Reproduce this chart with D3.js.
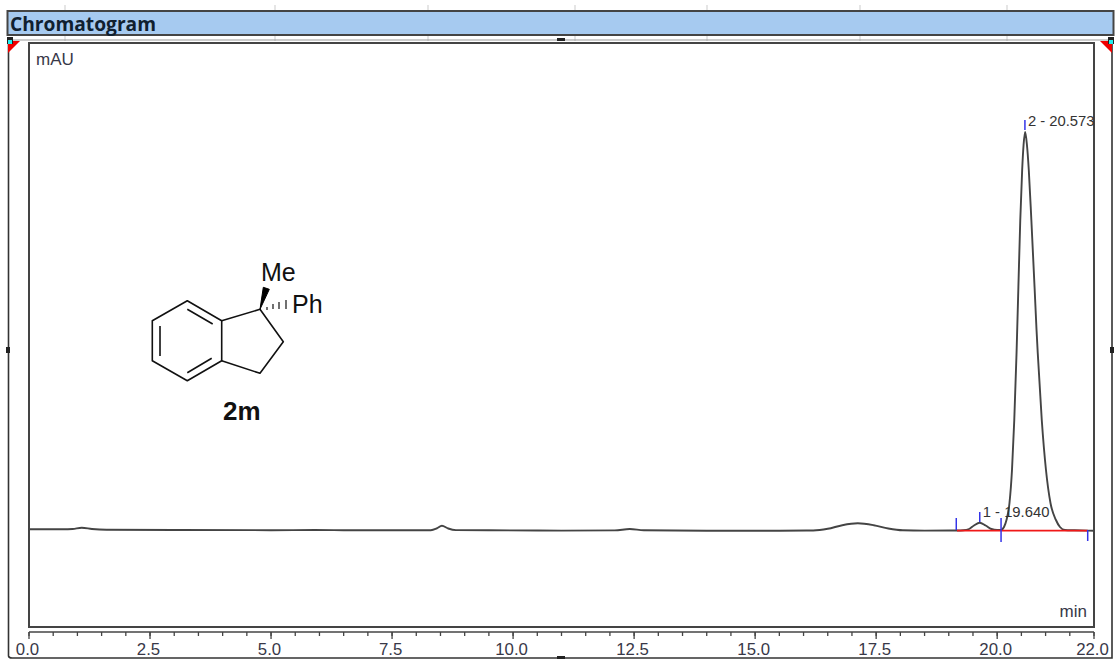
<!DOCTYPE html>
<html><head><meta charset="utf-8">
<script src="https://cdn.jsdelivr.net/npm/d3@7"></script>
<style>html,body{margin:0;padding:0;background:#fff}svg{display:block}text{font-family:"Liberation Sans",Arial,sans-serif}</style>
</head><body><svg id="c" width="1115" height="660"></svg>
<script>
// Chart values
const traceTimes = [0,0.7,0.9,1.09,1.3,1.6,3,5,5.9,6.5,8,8.3,8.42,8.53,8.66,8.82,9.5,11,12.1,12.41,12.7,14,15.5,16.2,16.5,16.8,17.12,17.45,17.75,18.05,18.5,19.17,19.3,19.42,19.52,19.64,19.76,19.88,20,20.079,20.141,20.192,20.254,20.306,20.353,20.4,20.438,20.477,20.516,20.545,20.578,20.615,20.653,20.706,20.772,20.813,20.838,20.921,21.008,21.101,21.214,21.297,21.4,21.6,22];
const traceValues = [0.7,0.7,1,2.3,1,0.2,0,-0.2,0,-0.2,-0.3,-0.2,1.5,4.3,1.5,-0.1,-0.3,-0.6,-0.4,1,-0.3,-0.7,-0.7,-0.5,1.2,4.8,6.7,4.8,1.5,-0.3,-0.6,-0.5,-0.3,1,4.5,7.3,4.5,1,0,0,3,10,27,60,110,177,243,310,360,385,398,385,360,310,243,200,177,110,60,27,10,3,0,-0.3,-0.7];
const majorTicks = [0,2.5,5,7.5,10,12.5,15,17.5,20,22];
const majorLabels = ["0.0","2.5","5.0","7.5","10.0","12.5","15.0","17.5","20.0","22.0"];
const minorTicks = d3.range(0,22.01,0.5);
const peakLabels = ["1 - 19.640","2 - 20.573"];
const peakTimes = [19.64,20.573];
const peakValues = [13,404];
const baselineTimes = [19.17,21.87];
const baselineValues = [-0.6,-0.6];
const markerTimes = [19.155,19.64,20.08,20.573,21.87];
const markerHigh = [12,18,12,410,0];
const markerLow = [0,8,-12,400,-11];
const xDomain = [0,22], yDomain = [-97,487];
const titleText = "Chromatogram";

const svg = d3.select("#c");
const x = d3.scaleLinear().domain(xDomain).range([29,1094]);
const y = d3.scaleLinear().domain(yDomain).range([627,43]);
const ink = "#444";

// faint sheet gridlines behind the frame
[65,275,428,575,707,860,1007].forEach(g=>{
  svg.append("line").attr("x1",g).attr("x2",g).attr("y1",5).attr("y2",41).attr("stroke","#ddd").attr("stroke-width",1.5);
});
// title band
svg.append("rect").attr("x",7.5).attr("y",11).attr("width",1106).attr("height",24)
  .attr("fill","#a6caf0").attr("stroke",ink).attr("stroke-width",2);
svg.append("text").attr("x",10).attr("y",31).attr("font-size",19.2).attr("font-weight",700)
  .style("font-family","'Open Sans'").attr("fill","#10202f").text(titleText);

// outer frame
svg.append("path").attr("d","M8.5,40V656Q9,658 12,658H1112V40").attr("fill","none").attr("stroke","#333").attr("stroke-width",1.6);
svg.append("line").attr("x1",8).attr("x2",1112).attr("y1",40).attr("y2",40).attr("stroke","#999").attr("stroke-width",1);
svg.append("path").attr("d","M8,41H20L8,53Z").attr("fill","#f00000");
svg.append("path").attr("d","M1100,41H1112V53Z").attr("fill","#f00000");
[[7,37],[1108,37]].forEach(p=>{
  svg.append("rect").attr("x",p[0]).attr("y",p[1]).attr("width",6).attr("height",7).attr("fill","#222");
  svg.append("rect").attr("x",p[0]+1).attr("y",p[1]+3).attr("width",4).attr("height",4).attr("fill","#2ee");
});
[[557,38,8,3],[6,347,4,6],[1110,347,4,6],[557,656,8,3]].forEach(p=>{
  svg.append("rect").attr("x",p[0]).attr("y",p[1]).attr("width",p[2]).attr("height",p[3]).attr("fill","#222");
});

// plot box
svg.append("rect").attr("x",29).attr("y",43).attr("width",1065).attr("height",584)
  .attr("fill","#fff").attr("stroke",ink).attr("stroke-width",2);

// axis
const ax = svg.append("g");
ax.append("line").attr("x1",x(0)).attr("x2",x(22)).attr("y1",632).attr("y2",632).attr("stroke",ink).attr("stroke-width",1.5);
ax.selectAll("line.mn").data(minorTicks).join("line").attr("class","mn")
  .attr("x1",d=>x(d)).attr("x2",d=>x(d)).attr("y1",632).attr("y2",636).attr("stroke",ink).attr("stroke-width",1.3);
ax.selectAll("line.mj").data(majorTicks).join("line").attr("class","mj")
  .attr("x1",d=>x(d)).attr("x2",d=>x(d)).attr("y1",632).attr("y2",639).attr("stroke",ink).attr("stroke-width",1.3);
ax.selectAll("text").data(majorTicks).join("text")
  .attr("x",d=>x(d)-1.5).attr("y",655).attr("text-anchor","middle").attr("font-size",16.8).attr("fill","#383848")
  .text((d,i)=>majorLabels[i]);
svg.append("text").attr("x",36).attr("y",65).attr("font-size",17).attr("fill","#383848").text("mAU");
svg.append("text").attr("x",1087).attr("y",617).attr("text-anchor","end").attr("font-size",17).attr("fill","#383848").text("min");

// trace
const line = d3.line().x(d=>x(d[0])).y(d=>y(d[1])).curve(d3.curveMonotoneX);
svg.append("path").attr("d",line(d3.zip(traceTimes,traceValues))).attr("fill","none").attr("stroke","#444").attr("stroke-width",1.9);

// integration baseline
svg.append("line").attr("x1",x(baselineTimes[0])).attr("x2",x(baselineTimes[1]))
  .attr("y1",y(baselineValues[0])).attr("y2",y(baselineValues[1])).attr("stroke","#f01818").attr("stroke-width",1.7);

// integration markers
svg.selectAll("line.mk").data(markerTimes).join("line").attr("class","mk")
  .attr("x1",d=>x(d)).attr("x2",d=>x(d))
  .attr("y1",(d,i)=>y(markerHigh[i])).attr("y2",(d,i)=>y(markerLow[i]))
  .attr("stroke","#3434e8").attr("stroke-width",1.5);

// peak labels
svg.selectAll("text.pk").data(peakLabels).join("text").attr("class","pk")
  .attr("x",(d,i)=>x(peakTimes[i])+3).attr("y",(d,i)=>y(peakValues[i])).attr("font-size",14.8).attr("fill","#333")
  .text(d=>d);

// structure drawing
const mol = svg.append("g").attr("fill","none").attr("stroke","#111").attr("stroke-width",1.6).attr("stroke-linejoin","round");
mol.append("path").attr("d","M187.3,300.7L221.7,320.7V360.7L187.3,380.7L152.3,360.7V320.7Z");
mol.append("path").attr("d","M221.7,320.7L260,309.3L283.3,341.7L260,373.3L221.7,360.7");
mol.append("path").attr("d","M187.3,309.3L212.7,324M187.3,372.7L211.7,358.3M160,326V356");
svg.append("path").attr("d","M260,309.3L263.3,287.3L269.3,289.3Z").attr("fill","#000").attr("stroke","#000");
[[267,307,310],[273,304,309],[279,302,309],[286,300,309]].forEach(h=>{
  svg.append("line").attr("x1",h[0]).attr("x2",h[0]).attr("y1",h[1]).attr("y2",h[2]).attr("stroke","#111").attr("stroke-width",1.2);
});
svg.append("text").attr("x",261).attr("y",281).attr("font-size",25).attr("fill","#111").text("Me");
svg.append("text").attr("x",292).attr("y",313).attr("font-size",25).attr("fill","#111").text("Ph");
svg.append("text").attr("x",223).attr("y",420).attr("font-size",26).attr("font-weight",700).attr("fill","#111").text("2m");
</script></body></html>
